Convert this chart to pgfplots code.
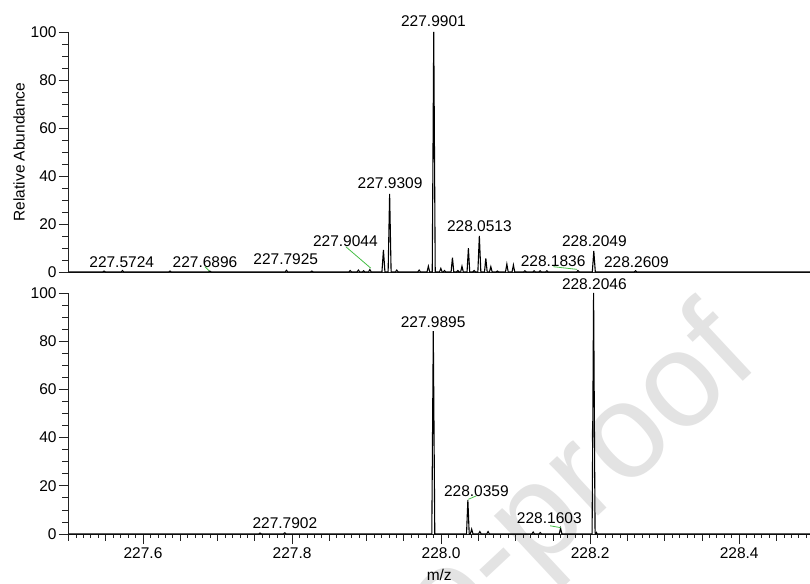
\documentclass[border=0pt]{standalone}
\usepackage{fontspec}
\setmainfont{Liberation Sans}
\usepackage{pgfplots}
\pgfplotsset{compat=1.18}
\definecolor{lead}{RGB}{70,190,70}
\definecolor{axc}{RGB}{35,35,35}
\newcommand{\fs}{\fontsize{15.5}{18}\selectfont}
\tikzset{lbl/.style={font=\fs, inner sep=0pt, anchor=center}}
\pgfplotsset{
  ms/.style={
    scale only axis, width=741.5pt,
    xmin=227.5, xmax=228.495, ymin=0, ymax=100,
    axis x line=bottom, axis y line=left,
    axis line style={-, line width=0.9pt, color=axc},
    tick align=outside,
    ytick={0,20,40,60,80,100}, minor y tick num=3,
    major tick length=10pt, minor tick length=6.5pt,
    every tick/.style={axc, line width=0.8pt},
    tick label style={font=\fs},
    yticklabel style={inner xsep=1.8pt},
    /pgf/number format/assume math mode=true,
    clip=false,
  },
  spec/.style={black, line width=1.1pt, line join=miter, mark=none},
}
\begin{document}
\begin{tikzpicture}
\useasboundingbox (0,0) rectangle (810pt,583pt);
% watermark
\node[rotate=43, anchor=base east, text=black!11, font=\fontsize{135}{135}\selectfont, inner sep=0pt] at (762pt,219pt) {Journal Pre-proof};

% ---------------- top panel ----------------
\begin{axis}[ms, at={(68.5pt,311pt)}, anchor=south west, height=240pt,
  xtick=\empty,
  ylabel={Relative Abundance},
  every axis y label/.style={at={(axis description cs:-0.0668,0.5)}, rotate=90, anchor=center, font=\fs},
]
\addplot[spec] coordinates {
(227.5000,0) (227.5459,0) (227.5477,0.4) (227.5495,0)
(227.5706,0) (227.5724,0.6) (227.5742,0)
(227.6344,0) (227.6362,0.4) (227.6380,0)
(227.6878,0) (227.6896,0.4) (227.6914,0)
(227.7907,0) (227.7925,0.7) (227.7943,0)
(227.8247,0) (227.8265,0.4) (227.8283,0)
(227.8762,0) (227.8780,0.6) (227.8798,0)
(227.8872,0) (227.8890,0.8) (227.8908,0)
(227.8942,0) (227.8960,0.5) (227.8978,0)
(227.9026,0) (227.9044,1.0) (227.9062,0)
(227.9206,0) (227.9226,9.2) (227.9246,0)
(227.9289,0) (227.9309,32.5) (227.9329,0)
(227.9387,0) (227.9405,0.8) (227.9423,0)
(227.9687,0) (227.9705,0.8) (227.9723,0)
(227.9811,0) (227.9829,2.4) (227.9847,0)
(227.9881,0) (227.9901,100) (227.9921,0)
(227.9978,0) (227.9996,1.5) (228.0014,0)
(228.0027,0) (228.0045,0.6) (228.0063,0)
(228.0134,0) (228.0152,6.0) (228.0170,0)
(228.0207,0) (228.0225,0.6) (228.0243,0)
(228.0262,0) (228.0280,2.4) (228.0298,0)
(228.0348,0) (228.0366,9.9) (228.0384,0)
(228.0425,0) (228.0443,0.6) (228.0461,0)
(228.0493,0) (228.0513,15.0) (228.0533,0)
(228.0582,0) (228.0600,5.7) (228.0618,0)
(228.0649,0) (228.0667,2.2) (228.0685,0)
(228.0737,0) (228.0755,0.4) (228.0773,0)
(228.0864,0) (228.0882,3.3) (228.0900,0)
(228.0952,0) (228.0970,2.9) (228.0988,0)
(228.1107,0) (228.1125,0.5) (228.1143,0)
(228.1230,0) (228.1248,0.5) (228.1266,0)
(228.1311,0) (228.1329,0.5) (228.1347,0)
(228.1401,0) (228.1419,0.5) (228.1437,0)
(228.1818,0) (228.1836,0.6) (228.1854,0)
(228.2029,0) (228.2049,8.75) (228.2069,0)
(228.2591,0) (228.2609,0.5) (228.2627,0)
(228.4950,0)
};
\node[lbl] at (axis cs:227.9897,104.7) {227.9901};
\node[lbl] at (axis cs:227.9315,36.96) {227.9309};
\node[lbl] at (axis cs:228.0513,18.9) {228.0513};
\node[lbl] at (axis cs:228.2056,12.9) {228.2049};
\node[lbl] at (axis cs:228.1503,4.6) {228.1836};
\node[lbl] at (axis cs:228.2620,4.2) {228.2609};
\node[lbl] at (axis cs:227.8715,13.0) {227.9044};
\node[lbl] at (axis cs:227.5714,4.04) {227.5724};
\node[lbl] at (axis cs:227.6832,4.04) {227.6896};
\node[lbl] at (axis cs:227.7915,5.3) {227.7925};
\draw[lead, line width=0.8pt] (axis cs:227.8721,10.54) -- (axis cs:227.9056,1.6);
\draw[lead, line width=0.8pt] (axis cs:227.6832,2.2) -- (axis cs:227.6886,0.5);
\draw[lead, line width=0.8pt] (axis cs:228.1507,2.2) -- (axis cs:228.1821,1.1);
\end{axis}

% ---------------- bottom panel ----------------
\begin{axis}[ms, at={(68.5pt,49pt)}, anchor=south west, height=241pt,
  xtick={227.4,227.6,227.8,228.0,228.2,228.4,228.6},
  minor x tick num=3,
  xticklabel style={/pgf/number format/.cd, fixed, fixed zerofill, precision=1, /tikz/.cd},
  extra x ticks={227.51,227.52,227.53,227.54,227.56,227.57,227.58,227.59,
    227.61,227.62,227.63,227.64,227.66,227.67,227.68,227.69,
    227.71,227.72,227.73,227.74,227.76,227.77,227.78,227.79,
    227.81,227.82,227.83,227.84,227.86,227.87,227.88,227.89,
    227.91,227.92,227.93,227.94,227.96,227.97,227.98,227.99,
    228.01,228.02,228.03,228.04,228.06,228.07,228.08,228.09,
    228.11,228.12,228.13,228.14,228.16,228.17,228.18,228.19,
    228.21,228.22,228.23,228.24,228.26,228.27,228.28,228.29,
    228.31,228.32,228.33,228.34,228.36,228.37,228.38,228.39,
    228.41,228.42,228.43,228.44,228.46,228.47,228.48,228.49},
  extra x tick labels={},
  extra tick style={major tick length=3.5pt},
  xlabel={m/z},
  every axis x label/.style={at={(axis description cs:0.5,0)}, anchor=base, yshift=-46pt, font=\fs},
]
\addplot[spec] coordinates {
(227.5000,0) (227.7552,0) (227.7570,0.4) (227.7588,0)
(227.7884,0) (227.7902,0.5) (227.7920,0)
(227.9875,0) (227.9895,84.2) (227.9915,0)
(228.0341,0) (228.0359,14.1) (228.0377,0)
(228.0392,0) (228.0410,2.0) (228.0428,0)
(228.0502,0) (228.0520,1.0) (228.0538,0)
(228.0612,0) (228.0630,1.0) (228.0648,0)
(228.1217,0) (228.1235,0.8) (228.1253,0)
(228.1312,0) (228.1330,0.6) (228.1348,0)
(228.1585,0) (228.1603,2.4) (228.1621,0)
(228.2026,0) (228.2046,100) (228.2066,0)
(228.2075,0) (228.2085,0.6) (228.2095,0)
(228.4950,0)
};
\node[lbl] at (axis cs:228.2056,103.7) {228.2046};
\node[lbl] at (axis cs:227.9893,88.1) {227.9895};
\node[lbl] at (axis cs:228.0473,17.97) {228.0359};
\node[lbl] at (axis cs:228.1452,6.5) {228.1603};
\node[lbl] at (axis cs:227.7903,4.7) {227.7902};
\draw[lead, line width=0.8pt] (axis cs:228.0366,14.4) -- (axis cs:228.0470,15.8);
\draw[lead, line width=0.8pt] (axis cs:228.1463,3.4) -- (axis cs:228.1611,2.6);
\end{axis}
\end{tikzpicture}
\end{document}
